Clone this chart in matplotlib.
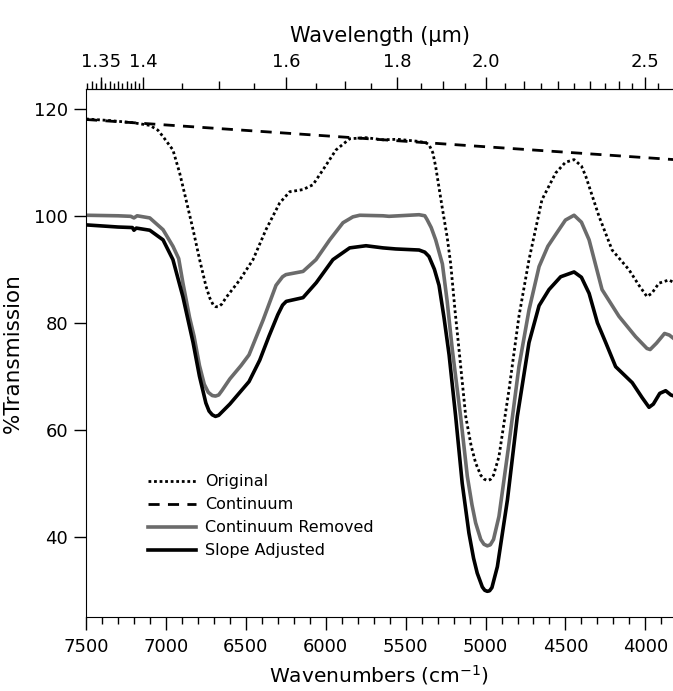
import numpy as np
import matplotlib
matplotlib.use("Agg")
import matplotlib.pyplot as plt
from matplotlib.ticker import FixedLocator, MultipleLocator

# wavenumbers (cm-1) and % transmission
wn_orig = [7500, 7350, 7206, 7101, 7050, 7018, 6956, 6914, 6874, 6830, 6789, 6749, 6725, 6705, 6688,
           6670, 6650, 6624, 6538, 6455, 6374, 6288, 6225, 6142, 6080, 6017, 5936, 5850, 5748, 5642,
           5550, 5416, 5370, 5354, 5330, 5312, 5272, 5240, 5218, 5190, 5166, 5124, 5090, 5062, 5030,
           5010, 4989, 4970, 4950, 4916, 4853, 4791, 4728, 4647, 4561, 4500, 4446, 4400, 4373, 4290,
           4208, 4102, 4040, 3990, 3960, 3915, 3853, 3820]
t_orig = [118.1, 117.8, 117.4, 116.9, 116.0, 114.8, 112.3, 108.0, 103.0, 97.4, 91.8, 86.8, 84.6, 83.4, 83.0,
          83.0, 83.5, 84.7, 88.0, 91.8, 97.4, 102.4, 104.5, 104.9, 105.8, 108.6, 112.3, 114.4, 114.6, 114.2,
          114.3, 113.9, 113.6, 113.3, 111.8, 109.2, 101.7, 96.0, 91.0, 82.0, 75.0, 62.5, 57.0, 53.8, 51.5,
          50.8, 50.5, 50.7, 51.5, 55.0, 67.5, 81.2, 91.8, 103.0, 108.0, 110.0, 110.5, 109.3, 107.4, 99.9,
          93.6, 89.9, 87.0, 84.9, 85.5, 87.4, 88.0, 87.5]

wn_cont = [7500, 3820]
t_cont = [118.0, 110.5]

wn_rem = [7500, 7300, 7220, 7200, 7180, 7101, 7018, 6956, 6920, 6894, 6852, 6824, 6790, 6760,
          6735, 6710, 6690, 6670, 6650, 6600, 6530, 6480, 6392, 6311, 6270, 6249, 6142, 6061,
          5975, 5892, 5830, 5787, 5642, 5604, 5416, 5380, 5366, 5340, 5312, 5270, 5240, 5208,
          5156, 5114, 5085, 5062, 5030, 5010, 4989, 4970, 4950, 4916, 4853, 4791, 4728, 4665,
          4610, 4561, 4500, 4446, 4400, 4352, 4271, 4165, 4061, 3990, 3970, 3930, 3880, 3850, 3820]
t_rem = [100.1, 100.0, 99.9, 99.6, 100.0, 99.6, 97.4, 94.3, 92.0, 87.5, 81.0, 77.5, 72.0, 68.5,
         67.0, 66.4, 66.3, 66.5, 67.3, 69.5, 72.0, 74.0, 80.5, 87.0, 88.6, 89.0, 89.6, 91.8,
         95.5, 98.7, 99.8, 100.1, 100.0, 99.9, 100.2, 100.0, 99.3, 97.8, 95.5, 91.0, 84.0, 75.0,
         62.5, 51.3, 46.0, 42.6, 39.5, 38.6, 38.3, 38.5, 39.5, 43.8, 57.5, 71.8, 82.4, 90.5,
         94.3, 96.5, 99.2, 100.1, 98.8, 95.5, 86.2, 81.2, 77.4, 75.2, 75.0, 76.2, 78.0, 77.7, 77.0]

wn_slope = [7500, 7300, 7210, 7200, 7185, 7101, 7018, 6956, 6894, 6830, 6790, 6750, 6730, 6710, 6690,
            6670, 6650, 6600, 6480, 6413, 6355, 6300, 6270, 6247, 6142, 6059, 5955, 5850, 5748, 5642,
            5562, 5416, 5380, 5354, 5320, 5291, 5260, 5228, 5187, 5146, 5104, 5075, 5052, 5020, 5005,
            4989, 4975, 4960, 4926, 4863, 4801, 4728, 4665, 4603, 4530, 4446, 4400, 4352, 4300, 4248,
            4186, 4082, 4020, 3977, 3950, 3910, 3873, 3840, 3820]
t_slope = [98.3, 97.9, 97.8, 97.3, 97.7, 97.3, 95.5, 91.8, 84.9, 76.3, 70.0, 65.0, 63.5, 62.8, 62.5,
           62.7, 63.3, 64.8, 69.0, 73.0, 77.5, 81.5, 83.3, 84.0, 84.7, 87.5, 91.8, 94.0, 94.4, 94.0,
           93.8, 93.6, 93.2, 92.4, 90.0, 87.0, 81.0, 74.0, 62.5, 50.0, 40.7, 36.0, 33.2, 30.6, 30.0,
           29.8, 29.9, 30.5, 34.4, 46.9, 62.5, 76.3, 83.2, 86.2, 88.6, 89.5, 88.5, 85.5, 80.0, 76.3,
           71.8, 68.8, 66.0, 64.2, 64.8, 66.8, 67.3, 66.5, 66.3]

top_major = [1.35, 1.4, 1.6, 1.8, 2.0, 2.5]
top_labels = ["1.35", "1.4", "1.6", "1.8", "2.0", "2.5"]

plt.rcParams['font.family'] = ['DejaVu Sans']

fig = plt.figure(figsize=(6.73, 6.91), dpi=100)
ax = fig.add_axes([86 / 673, 1 - 617 / 691, 1 - 86 / 673, (617 - 89) / 691])

ax.plot(wn_orig, t_orig, color='black', linestyle=(0, (1, 1)), linewidth=2, label='Original')
ax.plot(wn_cont, t_cont, color='black', linestyle=(0, (4, 3)), linewidth=2, label='Continuum')
ax.plot(wn_rem, t_rem, color='#6b6b6b', linewidth=2.6, label='Continuum Removed')
ax.plot(wn_slope, t_slope, color='black', linewidth=2.6, label='Slope Adjusted')

ax.set_xlim(7500, 3827)
ax.set_ylim(25.0, 123.7)

ax.spines['right'].set_visible(False)
ax.xaxis.set_major_locator(MultipleLocator(500))
ax.xaxis.set_minor_locator(MultipleLocator(100))
ax.set_yticks([40, 60, 80, 100, 120])
ax.tick_params(axis='x', which='major', direction='out', length=9, width=1, labelsize=13, pad=6)
ax.tick_params(axis='x', which='minor', direction='out', length=5, width=1)
ax.tick_params(axis='y', which='major', direction='out', length=9, width=1, labelsize=13, pad=4)
ax.tick_params(top=False, right=False)

ax.set_xlabel('Wavenumbers (cm$^{-1}$)', fontsize=14.5, labelpad=5)
ax.set_ylabel('%Transmission', fontsize=15.5, labelpad=8)

# top axis in wavelength (um)
conv = (lambda x: 10000.0 / np.asarray(x, dtype=float), lambda x: 10000.0 / np.asarray(x, dtype=float))
sec = ax.secondary_xaxis('top', functions=conv)
sec.xaxis.set_major_locator(FixedLocator(top_major))
sec.set_xticklabels(top_labels)
small = list(np.round(np.arange(1.335, 1.40, 0.01), 3)) + [1.45, 1.55, 1.65, 1.75, 1.85, 1.95,
                                                            2.05, 2.15, 2.25, 2.35, 2.45, 2.55]
sec.xaxis.set_minor_locator(FixedLocator(small))
sec.tick_params(axis='x', which='major', direction='out', length=9, width=1, labelsize=13, pad=4)
sec.tick_params(axis='x', which='minor', direction='out', length=4, width=1)
sec.set_xlabel('Wavelength (\u03bcm)', fontsize=15, labelpad=8)

sec2 = ax.secondary_xaxis('top', functions=conv)
sec2.xaxis.set_major_locator(FixedLocator([1.34, 1.35, 1.36, 1.37, 1.38, 1.39, 1.5, 1.7, 1.9,
                                           2.1, 2.2, 2.3, 2.4]))
sec2.xaxis.set_minor_locator(FixedLocator([]))
sec2.set_xticklabels([])
sec2.tick_params(axis='x', which='major', direction='out', length=6, width=1)
sec2.spines['top'].set_visible(False)

ax.legend(loc='upper left', bbox_to_anchor=(0.105, 0.27), frameon=False, fontsize=11.5,
          handlelength=3.0, handletextpad=0.6, labelspacing=0.5, borderpad=0, borderaxespad=0)

fig.savefig('out.png', dpi=100)
